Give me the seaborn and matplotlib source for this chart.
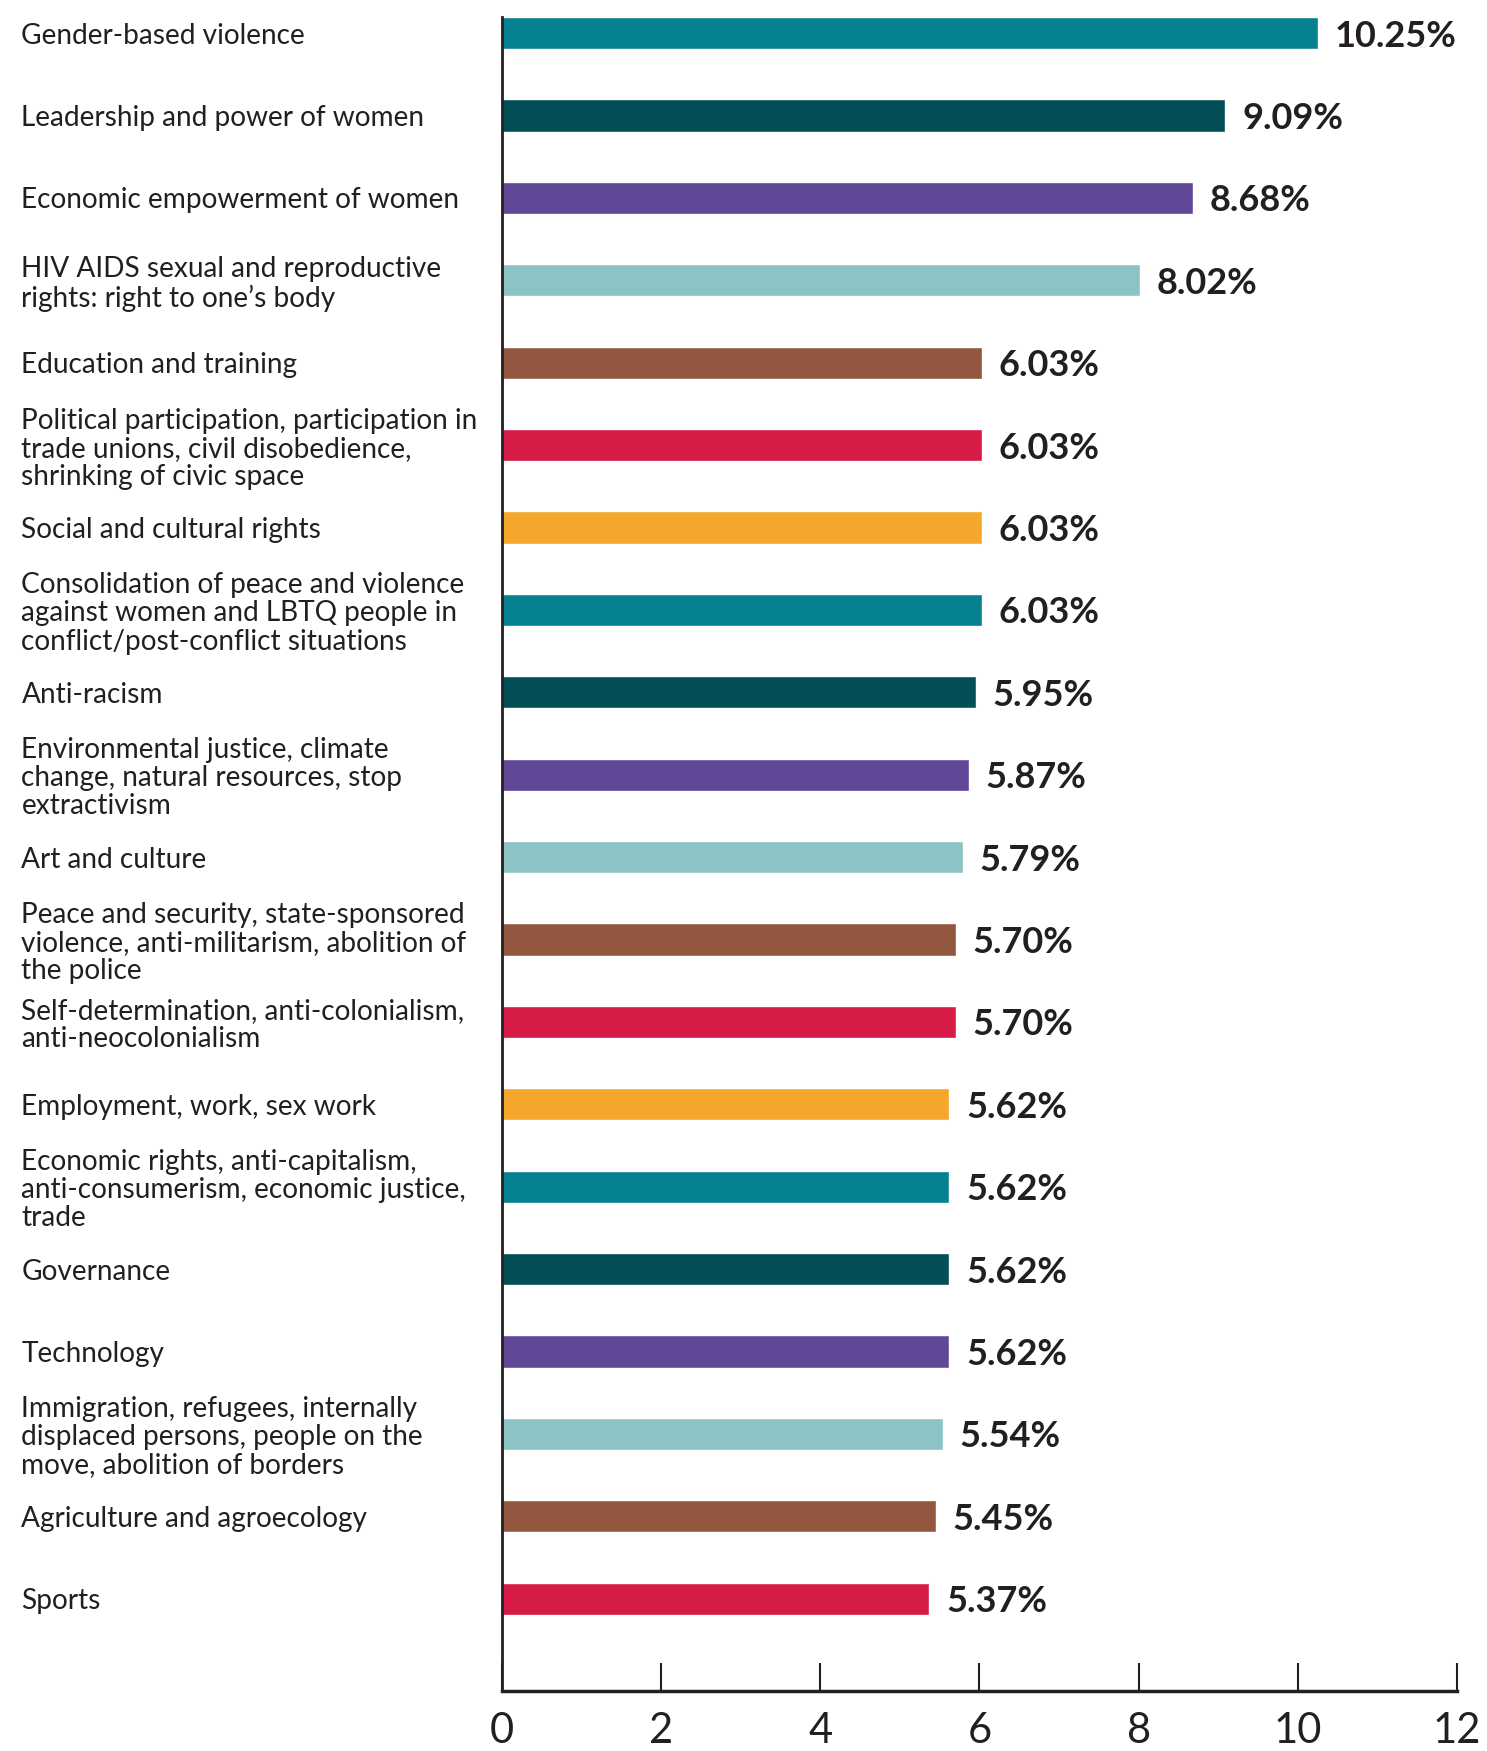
import matplotlib
matplotlib.use("Agg")
import matplotlib.pyplot as plt
import seaborn as sns
import pandas as pd

categories = [
    "Gender-based violence",
    "Leadership and power of women",
    "Economic empowerment of women",
    "HIV AIDS sexual and reproductive\nrights: right to one\u2019s body",
    "Education and training",
    "Political participation, participation in\ntrade unions, civil disobedience,\nshrinking of civic space",
    "Social and cultural rights",
    "Consolidation of peace and violence\nagainst women and LBTQ people in\nconflict/post-conflict situations",
    "Anti-racism",
    "Environmental justice, climate\nchange, natural resources, stop\nextractivism",
    "Art and culture",
    "Peace and security, state-sponsored\nviolence, anti-militarism, abolition of\nthe police",
    "Self-determination, anti-colonialism,\nanti-neocolonialism",
    "Employment, work, sex work",
    "Economic rights, anti-capitalism,\nanti-consumerism, economic justice,\ntrade",
    "Governance",
    "Technology",
    "Immigration, refugees, internally\ndisplaced persons, people on the\nmove, abolition of borders",
    "Agriculture and agroecology",
    "Sports",
]
values = [10.25, 9.09, 8.68, 8.02, 6.03, 6.03, 6.03, 6.03, 5.95, 5.87,
          5.79, 5.70, 5.70, 5.62, 5.62, 5.62, 5.62, 5.54, 5.45, 5.37]
base_colors = ["#06818F", "#034F57", "#614797", "#8CC3C4", "#935740", "#D61B47", "#F5A72C"]
colors = [base_colors[i % len(base_colors)] for i in range(len(categories))]
x_ticks = [0, 2, 4, 6, 8, 10, 12]

df = pd.DataFrame({"category": categories, "value": values})

sns.set_style("white")
plt.rcParams["font.family"] = ["Lato", "DejaVu Sans"]

fig = plt.figure(figsize=(14.87, 17.51), dpi=100)
ax = fig.add_axes([0.3376, 0.0343, 0.9798 - 0.3376, 0.9903 - 0.0343])

sns.barplot(data=df, x="value", y="category", hue="category", palette=colors,
            orient="h", width=0.39, legend=False, ax=ax, saturation=1)

for cont in ax.containers:
    texts = ax.bar_label(cont, fmt="%.2f%%", padding=12, fontsize=26, fontweight="bold",
                         color="#231F20")
    for t in texts:
        t.set_verticalalignment("center_baseline")

ax.set_xlim(0, 12)
ax.set_ylim(20.12, -0.195)
ax.set_xticks(x_ticks)
ax.set_xticklabels([str(t) for t in x_ticks], fontsize=30, color="#231F20")
ax.tick_params(axis="x", bottom=True, direction="in", length=20, width=1.5, pad=15,
               color="#231F20")
ax.tick_params(axis="y", left=False, length=0, pad=346)
for lab in ax.get_yticklabels():
    lab.set_horizontalalignment("left")
    lab.set_fontsize(20.2)
    lab.set_linespacing(1.1)
    lab.set_color("#231F20")

ax.set_xlabel("")
ax.set_ylabel("")
for s in ["top", "right"]:
    ax.spines[s].set_visible(False)
ax.spines["left"].set_linewidth(2)
ax.spines["bottom"].set_linewidth(2.5)
ax.spines["left"].set_color("#231F20")
ax.spines["bottom"].set_color("#231F20")

fig.savefig("out.png", dpi=100)
